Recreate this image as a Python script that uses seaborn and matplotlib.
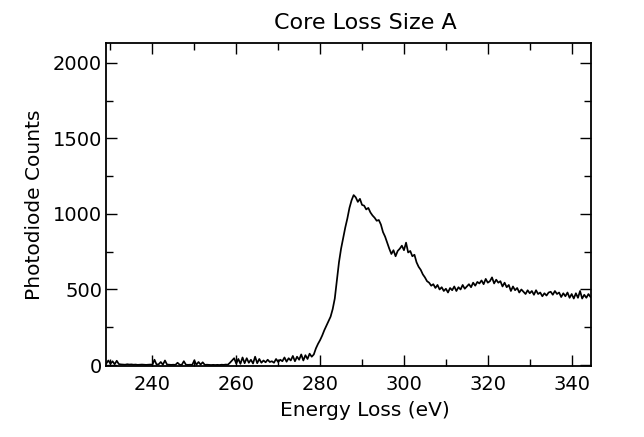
import numpy as np
import pandas as pd
import matplotlib
matplotlib.use("Agg")
import matplotlib.pyplot as plt
import seaborn as sns
from matplotlib.ticker import MultipleLocator

energy_start = 229.0
energy_step = 0.5
counts = [
    10, 30, 8, 25, 5, 28, 6, 4, 3, 2, 5, 3, 4, 2, 3, 1, 2, 3, 2, 1, 2, 3,  # 229-239.5
    2, 35, 3, 5, 20, 2, 30, 3, 2, 1, 2, 1, 15, 2, 1, 25, 2, 1, 2, 1,     # 240-249.5
    30, 2, 20, 3, 18, 1, 2, 1, 0, 1, 0, 1, 0, 2, 1, 3, 2, 15, 30, 45,    # 250-259.5
    10, 40, 8, 50, 12, 45, 15, 35, 10, 55, 12, 40, 15, 30, 18, 35, 20, 25, 15, 40,  # 260-269.5
    20, 35, 25, 50, 22, 45, 30, 60, 25, 55, 35, 70, 30, 65, 40, 75, 55, 70, 110, 140,  # 270-279.5
    165, 195, 230, 260, 290, 320, 370, 440, 560, 680, 770, 840, 910, 970, 1040, 1090,
    1125, 1110, 1080, 1100,                                               # 280-289.5
    1060, 1055, 1030, 1040, 1010, 990, 975, 955, 960, 930, 880, 850, 810, 770, 735, 760,
    720, 755, 770, 790,                                                   # 290-299.5
    760, 810, 745, 755, 720, 730, 680, 650, 630, 600, 580, 555, 545, 525, 535, 510,
    530, 500, 515, 490,                                                   # 300-309.5
    505, 480, 510, 495, 520, 490, 515, 500, 530, 505, 520, 535, 515, 545, 525, 550,
    540, 560, 535, 570,                                                   # 310-319.5
    545, 555, 580, 540, 565, 545, 555, 520, 545, 515, 530, 490, 520, 495, 510, 480,
    500, 485, 470, 495,                                                   # 320-329.5
    475, 490, 465, 495, 470, 480, 455, 475, 460, 480, 485, 465, 490, 470, 480, 450,
    475, 455, 480, 445,                                                   # 330-339.5
    470, 440, 475, 445, 490, 440, 465, 445, 470, 450,                     # 340-344.5
]
energy = [energy_start + energy_step * i for i in range(len(counts))]

title = "Core Loss Size A"
xlabel = "Energy Loss (eV)"
ylabel = "Photodiode Counts"
xticks = [240, 260, 280, 300, 320, 340]
yticks = [0, 500, 1000, 1500, 2000]

sns.set_style("ticks")
plt.rcParams['font.family'] = ['DejaVu Sans']
plt.rcParams['text.color'] = 'black'
plt.rcParams['axes.labelcolor'] = 'black'
plt.rcParams['xtick.color'] = 'black'
plt.rcParams['ytick.color'] = 'black'

fig = plt.figure(figsize=(6.44, 4.37), dpi=100)
ax = fig.add_axes([0.165, 0.163, 0.752, 0.738])

df = pd.DataFrame({"energy": energy, "counts": counts})
sns.lineplot(data=df, x="energy", y="counts", ax=ax, color="black", linewidth=1.25)

ax.set_xlim(229, 344.5)
ax.set_ylim(-5, 2130)
ax.set_xticks(xticks)
ax.set_yticks(yticks)
ax.xaxis.set_minor_locator(MultipleLocator(10))
ax.yaxis.set_minor_locator(MultipleLocator(250))
ax.tick_params(which="both", direction="in", top=True, right=True, labelsize=14,
               width=1.0, colors="black")
ax.tick_params(which="major", length=8)
ax.tick_params(which="minor", length=5)
ax.tick_params(axis="x", pad=7)
ax.tick_params(axis="y", pad=3)
for s in ax.spines.values():
    s.set_linewidth(1.3)
    s.set_color("black")

ax.set_title(title, fontsize=16, pad=10, x=0.535, color="black")
ax.set_xlabel(xlabel, fontsize=14.5, labelpad=5, x=0.535, color="black")
ax.set_ylabel(ylabel, fontsize=14.5, labelpad=6, color="black")

fig.savefig("out.png", dpi=100)
